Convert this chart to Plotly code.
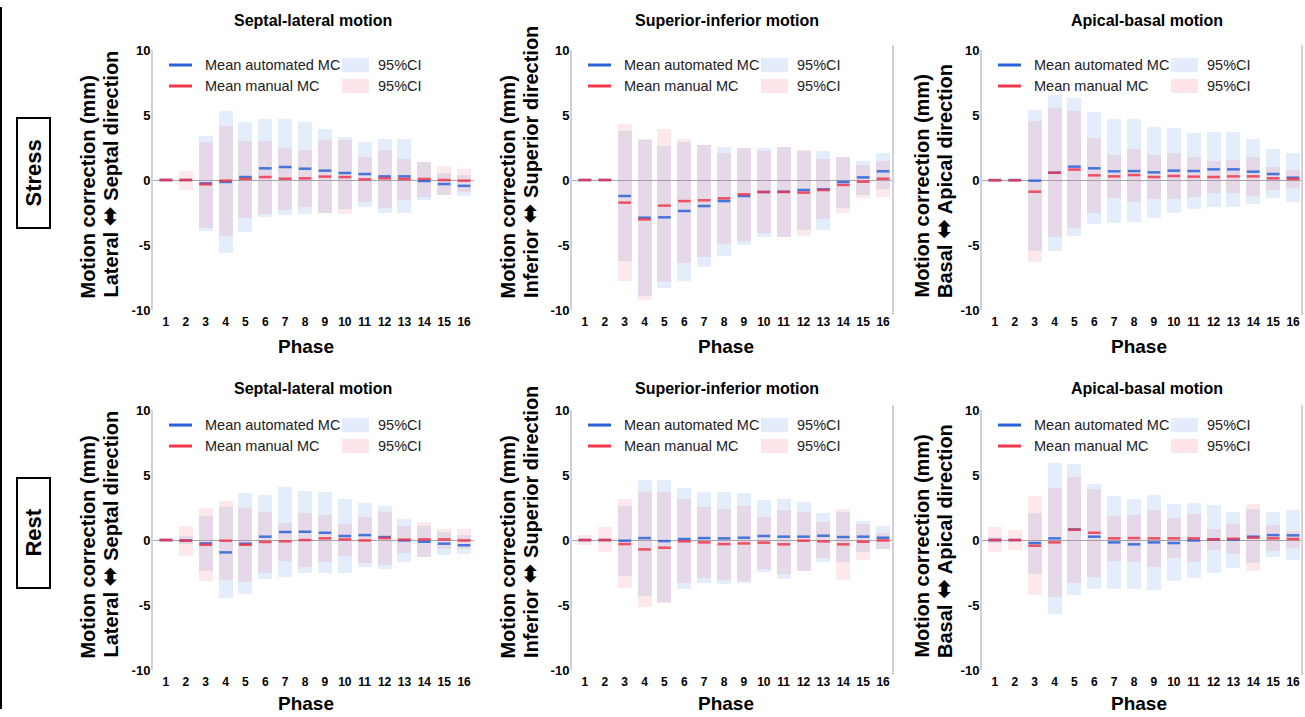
import plotly.graph_objects as go

# ---------------- data ----------------
phases = list(range(1, 17))
phase_labels = [str(p) for p in phases]
y_ticks = [-10, -5, 0, 5, 10]

# Stress, septal-lateral
s_sl_auto_mean = [0, 0, -0.26, -0.15, 0.23, 0.9, 1.0, 0.87, 0.72, 0.54, 0.46, 0.28, 0.28, -0.08, -0.31, -0.45]
s_sl_auto_lo = [-0.05, -0.1, -3.9, -5.64, -3.97, -2.87, -2.69, -2.64, -2.5, -2.26, -2.05, -2.56, -2.56, -1.54, -1.15, -1.2]
s_sl_auto_hi = [0.05, 0.1, 3.41, 5.3, 4.49, 4.67, 4.67, 4.44, 3.9, 3.28, 2.95, 3.13, 3.13, 1.36, 0.56, 0.4]
s_sl_man_mean = [0, 0, -0.33, -0.05, 0.08, 0.23, 0.1, 0.13, 0.26, 0.23, 0.05, 0.13, 0.08, 0.08, 0.0, -0.05]
s_sl_man_lo = [-0.12, -0.77, -3.67, -4.28, -2.95, -2.64, -2.31, -2.05, -2.55, -2.62, -1.67, -2.18, -1.54, -1.28, -1.15, -0.9]
s_sl_man_hi = [0.12, 0.72, 2.95, 4.18, 2.97, 2.97, 2.49, 2.31, 3.08, 3.08, 1.79, 2.31, 1.59, 1.36, 1.1, 0.85]

# Stress, superior-inferior
s_si_auto_mean = [0, 0, -1.23, -2.9, -2.87, -2.38, -2.0, -1.62, -1.23, -0.92, -0.9, -0.77, -0.72, -0.15, 0.2, 0.67]
s_si_auto_lo = [-0.05, -0.05, -6.23, -8.9, -8.28, -7.74, -6.67, -5.85, -5.0, -4.36, -4.38, -3.82, -3.82, -2.13, -1.15, -0.72]
s_si_auto_hi = [0.05, 0.05, 3.79, 3.13, 2.62, 2.95, 2.69, 2.56, 2.44, 2.49, 2.56, 2.26, 2.26, 1.74, 1.49, 2.05]
s_si_man_mean = [0, 0, -1.74, -3.03, -1.97, -1.62, -1.56, -1.41, -1.1, -0.92, -0.92, -0.97, -0.77, -0.38, -0.13, 0.1]
s_si_man_lo = [-0.1, -0.1, -7.74, -9.23, -7.82, -6.41, -5.9, -4.95, -4.67, -4.05, -4.38, -4.28, -3.03, -2.51, -1.41, -1.28]
s_si_man_hi = [0.1, 0.1, 4.28, 3.1, 3.9, 3.13, 2.69, 2.1, 2.44, 2.26, 2.56, 2.31, 1.62, 1.74, 1.15, 1.49]

# Stress, apical-basal
s_ab_auto_mean = [0, 0, -0.05, 0.56, 1.03, 0.9, 0.67, 0.69, 0.59, 0.72, 0.69, 0.82, 0.82, 0.64, 0.46, 0.18]
s_ab_auto_lo = [-0.05, -0.05, -5.46, -5.44, -4.28, -3.41, -3.33, -3.26, -2.95, -2.56, -2.26, -2.05, -2.05, -1.85, -1.41, -1.67]
s_ab_auto_hi = [0.05, 0.05, 5.38, 6.54, 6.28, 5.21, 4.69, 4.67, 4.1, 3.97, 3.59, 3.67, 3.67, 3.13, 2.36, 2.05]
s_ab_man_mean = [-0.03, -0.03, -0.9, 0.56, 0.8, 0.36, 0.28, 0.38, 0.23, 0.31, 0.26, 0.23, 0.28, 0.28, 0.13, 0.08]
s_ab_man_lo = [-0.05, -0.05, -6.28, -4.36, -3.72, -2.56, -1.36, -1.67, -1.46, -1.46, -1.33, -1.03, -1.03, -1.23, -0.77, -0.64]
s_ab_man_hi = [0.05, 0.05, 4.54, 5.56, 5.31, 3.26, 1.92, 2.38, 1.92, 2.05, 1.79, 1.46, 1.54, 1.74, 1.03, 0.77]

# Rest, septal-lateral
r_sl_auto_mean = [0, -0.03, -0.26, -0.95, -0.28, 0.26, 0.62, 0.64, 0.56, 0.31, 0.38, 0.23, -0.03, -0.13, -0.28, -0.4]
r_sl_auto_lo = [-0.05, -0.3, -2.38, -4.49, -4.15, -3.0, -2.82, -2.56, -2.56, -2.51, -2.1, -2.23, -1.67, -1.28, -1.15, -1.05]
r_sl_auto_hi = [0.05, 0.3, 1.87, 2.56, 3.59, 3.46, 4.05, 3.79, 3.67, 3.13, 2.82, 2.64, 1.64, 1.1, 0.64, 0.35]
r_sl_man_mean = [0, -0.05, -0.36, -0.05, -0.36, -0.15, -0.1, 0.0, 0.13, 0.05, -0.03, 0.15, 0.03, 0.05, 0.05, -0.03]
r_sl_man_lo = [-0.15, -1.23, -3.15, -3.08, -3.21, -2.56, -1.62, -2.1, -1.67, -1.2, -1.79, -1.92, -1.03, -1.28, -0.72, -0.7]
r_sl_man_hi = [0.15, 1.08, 2.49, 3.0, 2.44, 2.18, 1.33, 2.1, 1.92, 1.23, 1.79, 2.13, 1.1, 1.38, 0.85, 0.85]

# Rest, superior-inferior
r_si_auto_mean = [0, 0, -0.05, 0.15, -0.08, 0.08, 0.15, 0.13, 0.18, 0.31, 0.26, 0.26, 0.33, 0.23, 0.26, 0.18]
r_si_auto_lo = [-0.05, -0.05, -2.77, -4.31, -4.75, -3.79, -3.33, -3.41, -3.28, -2.49, -2.97, -2.38, -1.67, -1.67, -0.95, -0.72]
r_si_auto_hi = [0.05, 0.05, 2.62, 4.62, 4.62, 3.97, 3.72, 3.72, 3.64, 3.08, 3.13, 2.95, 2.05, 2.18, 1.49, 1.08]
r_si_man_mean = [0, 0, -0.31, -0.72, -0.59, -0.1, -0.18, -0.31, -0.26, -0.2, -0.33, -0.05, -0.1, -0.33, -0.13, -0.03]
r_si_man_lo = [-0.38, -0.95, -3.72, -5.13, -4.82, -3.33, -2.95, -3.08, -3.13, -2.23, -2.64, -2.38, -1.41, -3.08, -1.54, -0.72]
r_si_man_hi = [0.38, 0.97, 3.13, 3.72, 3.67, 3.13, 2.56, 2.38, 2.62, 1.79, 2.31, 2.18, 1.41, 2.36, 1.23, 0.56]

# Rest, apical-basal
r_ab_auto_mean = [0, 0, -0.23, 0.13, 0.82, 0.26, -0.18, -0.33, -0.18, -0.23, -0.03, 0.05, 0.03, 0.26, 0.38, 0.36]
r_ab_auto_lo = [-0.2, -0.05, -2.62, -5.69, -4.23, -3.79, -3.77, -3.77, -3.85, -3.13, -2.9, -2.56, -2.13, -1.79, -1.33, -1.54]
r_ab_auto_hi = [0.2, 0.05, 2.1, 5.9, 5.85, 4.28, 3.38, 3.13, 3.46, 2.74, 2.87, 2.69, 2.18, 2.36, 2.13, 2.31]
r_ab_man_mean = [0, 0, -0.44, -0.18, 0.79, 0.56, 0.13, 0.15, 0.13, 0.13, 0.13, 0.05, 0.1, 0.18, 0.13, 0.08]
r_ab_man_lo = [-0.95, -0.77, -4.23, -4.41, -3.33, -2.82, -1.59, -1.67, -2.05, -1.41, -1.72, -0.77, -1.08, -2.36, -0.85, -0.64]
r_ab_man_hi = [0.97, 0.77, 3.38, 4.03, 4.87, 3.9, 1.85, 1.92, 2.31, 1.67, 1.97, 0.85, 1.23, 2.74, 1.15, 0.72]

titles = ["Septal-lateral motion", "Superior-inferior motion", "Apical-basal motion"]
dir_words = [("Lateral", "Septal"), ("Inferior", "Superior"), ("Basal", "Apical")]
row_labels = ["Stress", "Rest"]
legend_labels = ["Mean automated MC", "Mean manual MC", "95%CI"]

panels = [
    (0, 0, s_sl_auto_mean, s_sl_auto_lo, s_sl_auto_hi, s_sl_man_mean, s_sl_man_lo, s_sl_man_hi),
    (0, 1, s_si_auto_mean, s_si_auto_lo, s_si_auto_hi, s_si_man_mean, s_si_man_lo, s_si_man_hi),
    (0, 2, s_ab_auto_mean, s_ab_auto_lo, s_ab_auto_hi, s_ab_man_mean, s_ab_man_lo, s_ab_man_hi),
    (1, 0, r_sl_auto_mean, r_sl_auto_lo, r_sl_auto_hi, r_sl_man_mean, r_sl_man_lo, r_sl_man_hi),
    (1, 1, r_si_auto_mean, r_si_auto_lo, r_si_auto_hi, r_si_man_mean, r_si_man_lo, r_si_man_hi),
    (1, 2, r_ab_auto_mean, r_ab_auto_lo, r_ab_auto_hi, r_ab_man_mean, r_ab_man_lo, r_ab_man_hi),
]

# ---------------- style / layout ----------------
W, H = 1305, 717
FONT = "Liberation Sans, Arial, sans-serif"
BLUE = "#2a63d8"
RED = "#f0374b"
BLUE_CI = "rgba(90,140,230,0.16)"
RED_CI = "rgba(245,110,130,0.16)"
LEG_BLUE_BOX = "rgb(228,236,251)"
LEG_RED_BOX = "rgb(253,229,233)"
ARROW = '<span style="font-family:DejaVu Sans;font-size:24px">\u2b0c</span>'

xdom_px = [(153, 474), (572, 893), (982, 1303)]
ydom_px = [(50, 310), (410, 670)]
title_x = [313, 727, 1147]
phase_x = [306, 726, 1139]
ytitle_x = [(88, 110), (508, 530), (922, 944)]

# vertical layout compensation for the viewer (measured on a test render)
SY, OY = 0.979, 7.0


def px(x):
    return x / W


def py(y):
    return 1 - ((y - OY) / SY) / H


fig = go.Figure()
annotations = []
shapes = []
layout_axes = {}

for i, (r, c, am, alo, ahi, mm, mlo, mhi) in enumerate(panels, start=1):
    xa = "x" if i == 1 else f"x{i}"
    ya = "y" if i == 1 else f"y{i}"
    fig.add_trace(go.Bar(x=phases, y=[h - l for h, l in zip(ahi, alo)], base=alo, width=0.7,
                         marker=dict(color=BLUE_CI, line=dict(width=0)), xaxis=xa, yaxis=ya,
                         showlegend=False, hoverinfo="skip"))
    fig.add_trace(go.Bar(x=phases, y=[h - l for h, l in zip(mhi, mlo)], base=mlo, width=0.7,
                         marker=dict(color=RED_CI, line=dict(width=0)), xaxis=xa, yaxis=ya,
                         showlegend=False, hoverinfo="skip"))
    fig.add_trace(go.Scatter(x=phases, y=am, mode="markers", xaxis=xa, yaxis=ya, showlegend=False,
                             marker=dict(symbol="line-ew", size=9, opacity=0.85,
                                         line=dict(width=2.5, color=BLUE))))
    fig.add_trace(go.Scatter(x=phases, y=mm, mode="markers", xaxis=xa, yaxis=ya, showlegend=False,
                             marker=dict(symbol="line-ew", size=9, opacity=0.85,
                                         line=dict(width=2.5, color=RED))))

    x0, x1 = xdom_px[c]
    y0, y1 = ydom_px[r]
    layout_axes["xaxis" if i == 1 else f"xaxis{i}"] = dict(
        domain=[px(x0), px(x1)], range=[0.35, 16.5], anchor=ya,
        tickmode="array", tickvals=phases, ticktext=phase_labels,
        showline=False, showgrid=False, zeroline=False, ticks="", ticklabelstandoff=3,
        tickfont=dict(family=FONT, size=12, color="black", weight="bold"))
    layout_axes["yaxis" if i == 1 else f"yaxis{i}"] = dict(
        domain=[py(y1), py(y0)], range=[-10, 10], anchor=xa,
        tickmode="array", tickvals=y_ticks, ticktext=[str(t) for t in y_ticks],
        showline=True, linecolor="#d2d2d2", linewidth=2, showgrid=False,
        zeroline=True, zerolinecolor="#a8a8a8", zerolinewidth=1,
        ticks="", ticklabelstandoff=-2,
        tickfont=dict(family=FONT, size=13, color="black", weight="bold"))

    annotations.append(dict(text="<b>" + titles[c] + "</b>", x=px(title_x[c]), y=py(20 + 368 * r),
                            xref="paper", yref="paper", showarrow=False, xanchor="center",
                            yanchor="middle", font=dict(family=FONT, size=16, color="black")))
    annotations.append(dict(text="<b>Phase</b>", x=px(phase_x[c]), y=py(346 + 357 * r),
                            xref="paper", yref="paper", showarrow=False, xanchor="center",
                            yanchor="middle", font=dict(family=FONT, size=19, color="black")))
    a, b = dir_words[c]
    xl1, xl2 = ytitle_x[c]
    ybot = 300 + 360 * r
    annotations.append(dict(text="<b>Motion correction (mm)</b>",
                            x=px(xl1), y=py(ybot), xref="paper", yref="paper",
                            showarrow=False, xanchor="center", yanchor="bottom", textangle=-90,
                            font=dict(family=FONT, size=20, color="black")))
    annotations.append(dict(text="<b>" + a + " " + ARROW + " " + b + " direction</b>",
                            x=px(xl2), y=py(ybot), xref="paper", yref="paper",
                            showarrow=False, xanchor="center", yanchor="bottom", textangle=-90,
                            font=dict(family=FONT, size=20, color="black")))

    # legend (drawn)
    L = x0
    ya_px = y0 + 15
    ym_px = y0 + 36
    for yy, col, box, lab in [(ya_px, BLUE, LEG_BLUE_BOX, legend_labels[0]),
                              (ym_px, RED, LEG_RED_BOX, legend_labels[1])]:
        shapes.append(dict(type="line", xref="paper", yref="paper", x0=px(L + 16), x1=px(L + 39),
                           y0=py(yy), y1=py(yy), line=dict(color=col, width=3)))
        annotations.append(dict(text=lab, x=px(L + 50), y=py(yy), xref="paper", yref="paper",
                                showarrow=False, xanchor="left", yanchor="middle",
                                font=dict(family=FONT, size=14.5, color="#222222")))
        shapes.append(dict(type="rect", xref="paper", yref="paper", x0=px(L + 189), x1=px(L + 216),
                           y0=py(yy - 7), y1=py(yy + 7), fillcolor=box, line=dict(width=0)))
        annotations.append(dict(text=legend_labels[2], x=px(L + 223), y=py(yy), xref="paper",
                                yref="paper", showarrow=False, xanchor="left", yanchor="middle",
                                font=dict(family=FONT, size=14.5, color="#222222")))

for r, (yt, yb) in enumerate([(118, 228), (478, 588)]):
    shapes.append(dict(type="rect", xref="paper", yref="paper", x0=px(17), x1=px(50),
                       y0=py(yb), y1=py(yt), line=dict(color="black", width=2), fillcolor="white"))
    annotations.append(dict(text="<b>" + row_labels[r] + "</b>", x=px(33.5), y=py((yt + yb) / 2),
                            xref="paper", yref="paper", showarrow=False, textangle=-90,
                            xanchor="center", yanchor="middle",
                            font=dict(family=FONT, size=22, color="black")))

shapes.append(dict(type="line", xref="paper", yref="paper", x0=px(1), x1=px(1), y0=0, y1=1,
                   line=dict(color="black", width=2)))
for xx in (893, 1302):
    for (yt, yb) in [(45, 315), (405, 675)]:
        shapes.append(dict(type="line", xref="paper", yref="paper", x0=px(xx), x1=px(xx),
                           y0=py(yb), y1=py(yt), line=dict(color="#d2d2d2", width=2)))

fig.update_layout(
    width=W, height=H, autosize=False,
    margin=dict(l=0, r=0, t=0, b=0),
    paper_bgcolor="white", plot_bgcolor="white",
    barmode="overlay", bargap=0,
    font=dict(family=FONT, color="black"),
    annotations=annotations, shapes=shapes,
    **layout_axes,
)

fig.write_html("out.html")
